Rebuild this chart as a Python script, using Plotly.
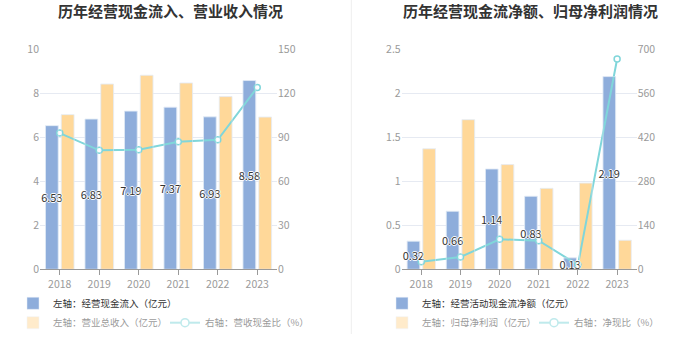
import plotly.graph_objects as go

years = ["2018", "2019", "2020", "2021", "2022", "2023"]

# Left chart
cash_inflow = [6.53, 6.83, 7.19, 7.37, 6.93, 8.58]
revenue = [7.03, 8.42, 8.82, 8.47, 7.85, 6.92]
cash_rev_ratio = [92.9, 81.1, 81.5, 87.0, 88.3, 124.0]

# Right chart
net_cash_flow = [0.32, 0.66, 1.14, 0.83, 0.13, 2.19]
net_profit = [1.37, 1.70, 1.19, 0.92, 0.98, 0.33]
net_cash_ratio = [24.0, 39.0, 95.5, 91.0, 14.0, 669.0]

left_titles = ["历年经营现金流入、营业收入情况"]
right_titles = ["历年经营现金流净额、归母净利润情况"]
left_names = ["左轴：经营现金流入（亿元）", "左轴：营业总收入（亿元）", "右轴：营收现金比（%）"]
right_names = ["左轴：经营活动现金流净额（亿元）", "左轴：归母净利润（亿元）", "右轴：净现比（%）"]

BLUE = "#8EADDB"
YELLOW = "#FFD899"
TEAL = "#80D6DA"
CLEAR = "rgba(0,0,0,0)"
FONT = "Noto Sans CJK SC"
W, H = 700, 359

def px_x(v):
    return v / W

def px_y(v):
    return (H - v) / H

label_font = dict(
    family=FONT, size=11, color="#333333",
    shadow="1px 0 0 #fff, -1px 0 0 #fff, 0 1px 0 #fff, 0 -1px 0 #fff",
)

fig = go.Figure()

def add_panel(xa, ya, ya2, ya_lbl, blue_vals, yel_vals, ratio_vals, names, lg_a, lg_b):
    fig.add_trace(go.Bar(
        x=years, y=blue_vals, name=names[0], xaxis=xa, yaxis=ya,
        marker=dict(color=BLUE), legend=lg_a,
    ))
    fig.add_trace(go.Bar(
        x=years, y=yel_vals, name=names[1], xaxis=xa, yaxis=ya,
        marker=dict(color=YELLOW), showlegend=False,
    ))
    fig.add_trace(go.Scatter(
        x=years, y=ratio_vals, name=names[2], xaxis=xa, yaxis=ya2,
        mode="lines+markers", line=dict(color=TEAL, width=2),
        marker=dict(symbol="circle", size=6, color="white",
                    line=dict(color=TEAL, width=1.5)),
        showlegend=False, cliponaxis=False,
    ))
    # value labels on a top overlay so they sit above the ratio line
    fig.add_trace(go.Bar(
        x=years, y=blue_vals, name=names[0], xaxis=xa, yaxis=ya_lbl,
        marker=dict(color=CLEAR), text=[f"{v:.2f}" for v in blue_vals],
        textposition="inside", insidetextanchor="middle", textangle=0,
        constraintext="none", textfont=label_font, showlegend=False,
        cliponaxis=False, hoverinfo="skip",
    ))
    fig.add_trace(go.Bar(
        x=years, y=yel_vals, name=names[1], xaxis=xa, yaxis=ya_lbl,
        marker=dict(color=CLEAR), showlegend=False, hoverinfo="skip",
    ))
    # faded legend entries (legend only)
    fig.add_trace(go.Bar(
        x=years, y=yel_vals, name=names[1], xaxis=xa, yaxis=ya,
        marker=dict(color=YELLOW), visible="legendonly", legend=lg_b,
    ))
    fig.add_trace(go.Scatter(
        x=years, y=ratio_vals, name=names[2], xaxis=xa, yaxis=ya2,
        mode="lines+markers", line=dict(color=TEAL, width=2),
        marker=dict(symbol="circle", size=8, color="white",
                    line=dict(color=TEAL, width=1.5)),
        visible="legendonly", legend=lg_b,
    ))

add_panel("x", "y", "y2", "y5", cash_inflow, revenue, cash_rev_ratio, left_names, "legend", "legend2")
add_panel("x2", "y3", "y4", "y6", net_cash_flow, net_profit, net_cash_ratio, right_names, "legend3", "legend4")

ydom = [px_y(269.3), px_y(49.3)]
tickfont = dict(family=FONT, size=10.5, color="#9A9A9A")
xcommon = dict(type="category", showline=True, linecolor="#9A9A9A", linewidth=1,
               ticks="outside", ticklen=5, tickcolor="#9A9A9A", tickfont=tickfont,
               showgrid=False, zeroline=False, range=[-0.5, 5.5], fixedrange=True)
ycommon = dict(showline=False, ticks="", tickfont=tickfont, zeroline=False,
               gridcolor="#E6EAF2", gridwidth=1, domain=ydom, fixedrange=True)
hidden = dict(visible=False, showgrid=False, zeroline=False, fixedrange=True)

legend_common = dict(orientation="h", font=dict(family=FONT, size=9.5, color="#333333"),
                     bgcolor="rgba(0,0,0,0)", xanchor="left", yanchor="middle",
                     itemclick=False, itemdoubleclick=False, tracegroupgap=0)

fig.update_layout(
    width=W, height=H, margin=dict(l=0, r=0, t=0, b=0, autoexpand=False),
    paper_bgcolor="white", plot_bgcolor="white",
    barmode="group", bargap=0.2, bargroupgap=0.19,
    font=dict(family=FONT),
    showlegend=True,
    xaxis=dict(domain=[px_x(40), px_x(277)], anchor="y", **xcommon),
    yaxis=dict(anchor="x", range=[0, 10], dtick=2, **ycommon),
    yaxis2=dict(anchor="x", overlaying="y", side="right", range=[0, 150], dtick=30,
                showgrid=False, zeroline=False, tickfont=tickfont, fixedrange=True),
    yaxis5=dict(anchor="x", overlaying="y", range=[0, 10], **hidden),
    xaxis2=dict(domain=[px_x(401.7), px_x(636.7)], anchor="y3", **xcommon),
    yaxis3=dict(anchor="x2", range=[0, 2.5], dtick=0.5, **ycommon),
    yaxis4=dict(anchor="x2", overlaying="y3", side="right", range=[0, 700], dtick=140,
                showgrid=False, zeroline=False, tickfont=tickfont, fixedrange=True),
    yaxis6=dict(anchor="x2", overlaying="y3", range=[0, 2.5], **hidden),
    legend=dict(x=px_x(13), y=px_y(303.3), **legend_common),
    legend2=dict(x=px_x(13), y=px_y(322.7), entrywidthmode="pixels", entrywidth=107,
                 **legend_common),
    legend3=dict(x=px_x(382), y=px_y(303.3), **legend_common),
    legend4=dict(x=px_x(382), y=px_y(322.7), entrywidthmode="pixels", entrywidth=107,
                 **legend_common),
    annotations=[
        dict(text="<b>" + left_titles[0] + "</b>", x=px_x(170), y=px_y(11),
             xref="paper", yref="paper", showarrow=False, xanchor="center", yanchor="middle",
             font=dict(family=FONT, size=15, color="#333333")),
        dict(text="<b>" + right_titles[0] + "</b>", x=px_x(530), y=px_y(11),
             xref="paper", yref="paper", showarrow=False, xanchor="center", yanchor="middle",
             font=dict(family=FONT, size=15, color="#333333")),
    ],
    shapes=[dict(type="line", xref="paper", yref="paper", x0=px_x(351.3), x1=px_x(351.3),
                 y0=px_y(334), y1=1, line=dict(color="#EEEEEE", width=1))],
)

fig.write_html("out.html", config={"displayModeBar": False},
               post_script="document.body.style.margin='0';document.body.style.overflow='hidden';")
